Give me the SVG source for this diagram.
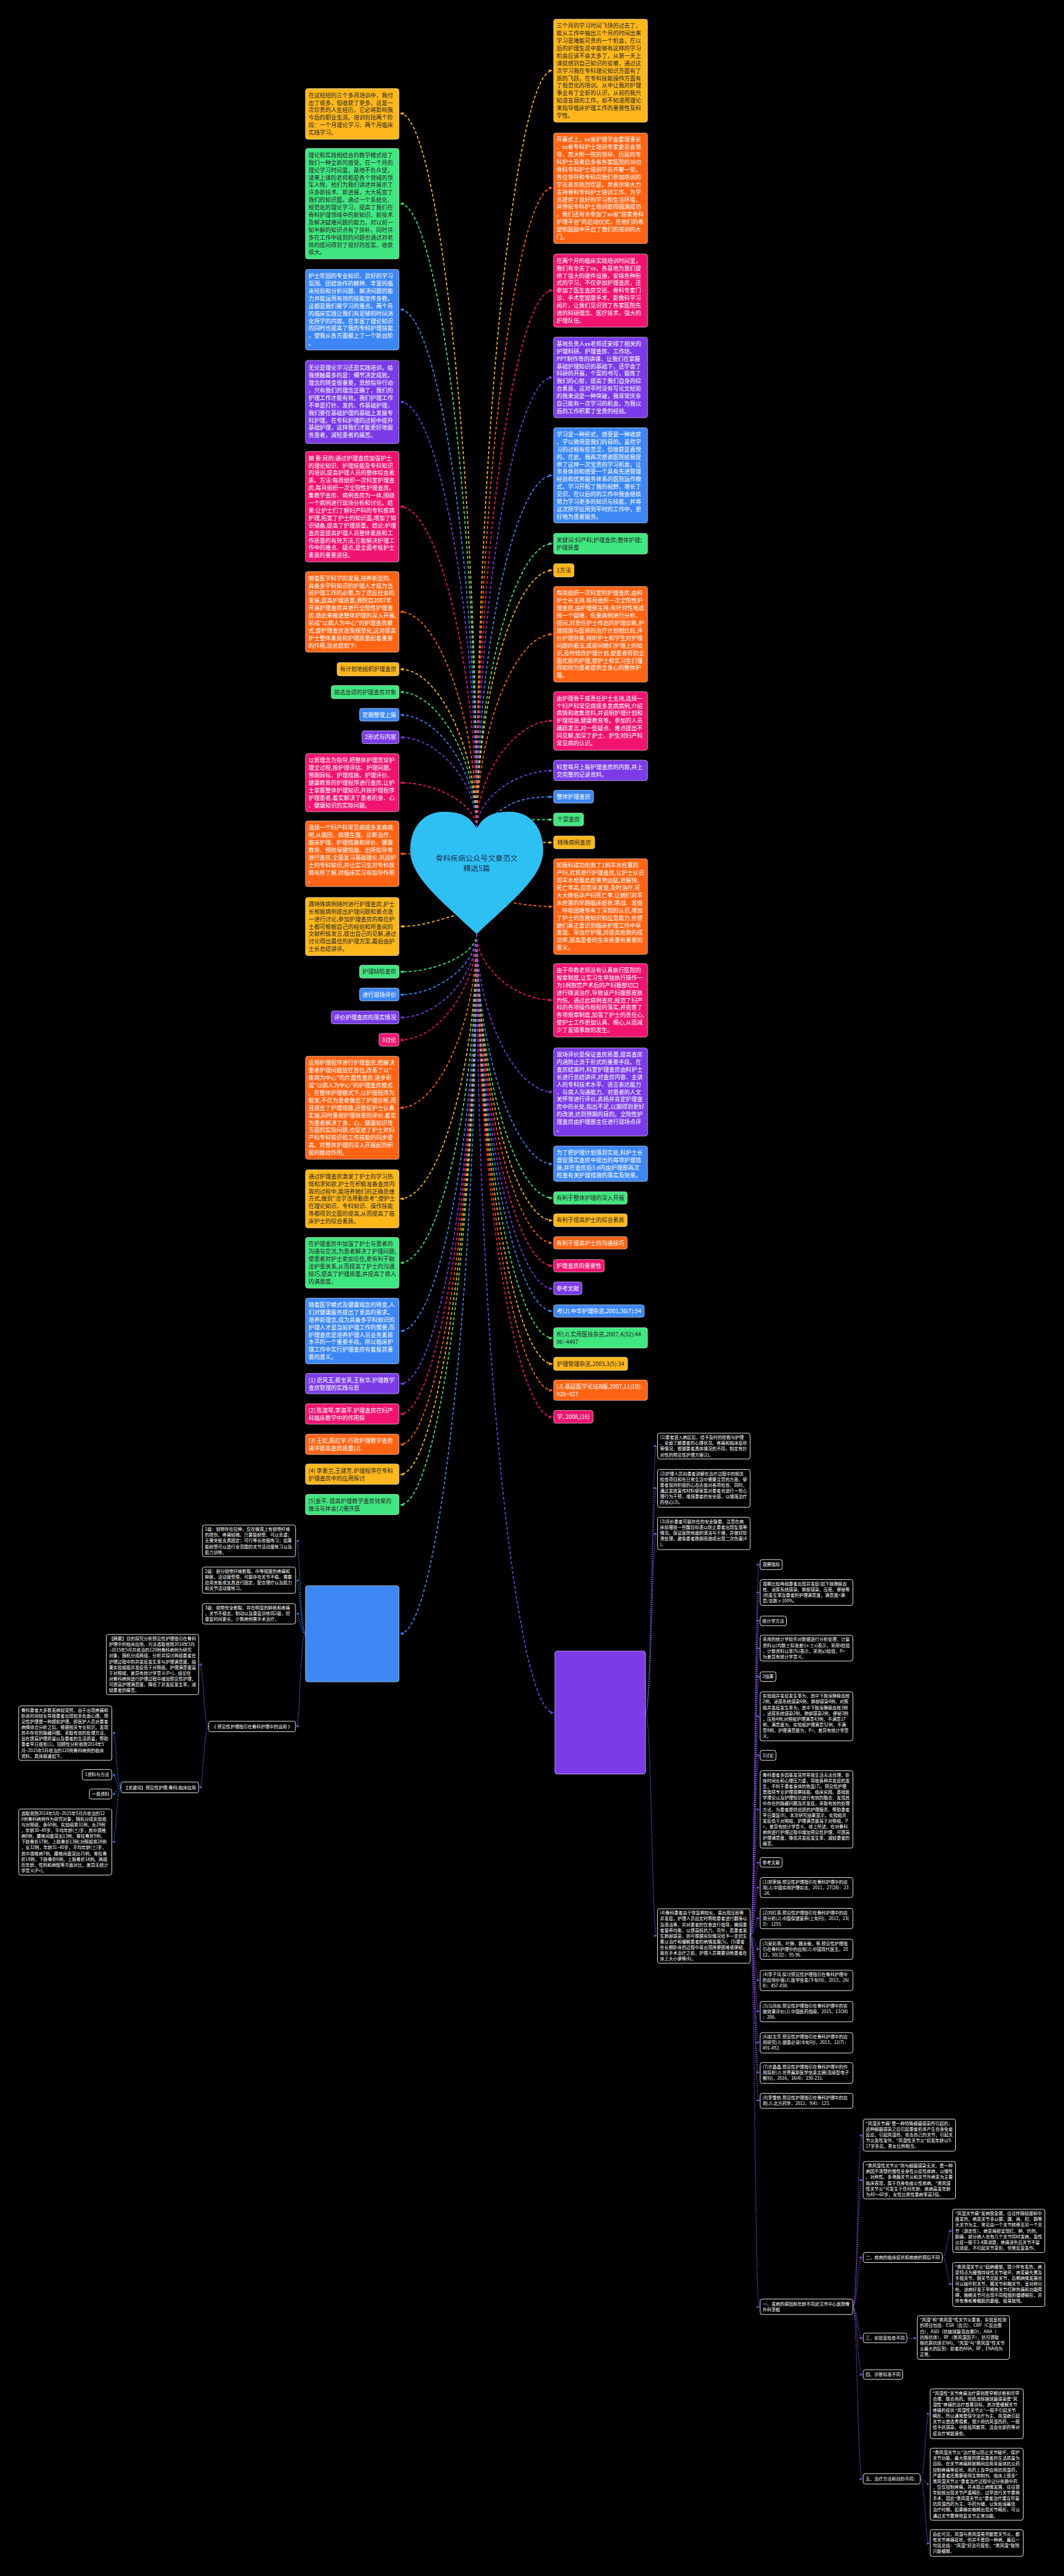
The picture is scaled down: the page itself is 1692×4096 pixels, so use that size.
<svg xmlns="http://www.w3.org/2000/svg" width="1692" height="4096" viewBox="0 0 1692 4096">
<style>
text{font-family:"Noto Sans CJK SC","Noto Sans",sans-serif}
.t{font-size:13.6px}
.m{text-anchor:middle}
.d{fill:#262626}
.w{fill:#fff}
.s{font-size:10.5px;fill:#fff}
.ry{fill:#FFB71B}.rg{fill:#40E67F}.rb{fill:#3D87F5}.rp{fill:#7B3BE8}.rk{fill:#F01470}.ro{fill:#FF6414}
.n rect{stroke:rgba(255,255,255,0.55);stroke-width:1.5}
.bx{fill:#000;stroke:#e6e6e6;stroke-width:1.5}
.c{fill:none;stroke-width:2.6;stroke-dasharray:7 5}
.cy{stroke:#FFB71B;marker-end:url(#my)}.cg{stroke:#40E67F;marker-end:url(#mg)}.cb{stroke:#3D87F5;marker-end:url(#mb)}
.cp{stroke:#7B3BE8;marker-end:url(#mp)}.ck{stroke:#F01470;marker-end:url(#mk)}.co{stroke:#FF6414;marker-end:url(#mo)}
.bl{fill:none;stroke-width:1.8;stroke-dasharray:2.5 2.5}
.lb{stroke:#3D87F5;marker-end:url(#sb)}.lp{stroke:#8A55F0;marker-end:url(#sp)}
</style>
<defs>
<marker id="my" viewBox="0 0 10 10" refX="9" refY="5" markerWidth="9" markerHeight="9" markerUnits="userSpaceOnUse" orient="auto"><path d="M0,1 L10,5 L0,9 z" fill="#FFB71B"/></marker>
<marker id="mg" viewBox="0 0 10 10" refX="9" refY="5" markerWidth="9" markerHeight="9" markerUnits="userSpaceOnUse" orient="auto"><path d="M0,1 L10,5 L0,9 z" fill="#40E67F"/></marker>
<marker id="mb" viewBox="0 0 10 10" refX="9" refY="5" markerWidth="9" markerHeight="9" markerUnits="userSpaceOnUse" orient="auto"><path d="M0,1 L10,5 L0,9 z" fill="#3D87F5"/></marker>
<marker id="mp" viewBox="0 0 10 10" refX="9" refY="5" markerWidth="9" markerHeight="9" markerUnits="userSpaceOnUse" orient="auto"><path d="M0,1 L10,5 L0,9 z" fill="#7B3BE8"/></marker>
<marker id="mk" viewBox="0 0 10 10" refX="9" refY="5" markerWidth="9" markerHeight="9" markerUnits="userSpaceOnUse" orient="auto"><path d="M0,1 L10,5 L0,9 z" fill="#F01470"/></marker>
<marker id="mo" viewBox="0 0 10 10" refX="9" refY="5" markerWidth="9" markerHeight="9" markerUnits="userSpaceOnUse" orient="auto"><path d="M0,1 L10,5 L0,9 z" fill="#FF6414"/></marker>
<marker id="sb" viewBox="0 0 10 10" refX="9" refY="5" markerWidth="7" markerHeight="7" markerUnits="userSpaceOnUse" orient="auto"><path d="M0,1 L10,5 L0,9 z" fill="#3D87F5"/></marker>
<marker id="sp" viewBox="0 0 10 10" refX="9" refY="5" markerWidth="7" markerHeight="7" markerUnits="userSpaceOnUse" orient="auto"><path d="M0,1 L10,5 L0,9 z" fill="#8A55F0"/></marker>
</defs>
<rect width="1692" height="4096" fill="#000"/>
<g transform="scale(0.66094)">
<g id="connectors">
<path class="c cy" d="M1147 1992 C1147 1133 1055 273 963 273"/>
<path class="c cg" d="M1147 1992 C1147 1241 1055 490 963 490"/>
<path class="c cb" d="M1147 1992 C1147 1369 1055 745 963 745"/>
<path class="c cp" d="M1147 1992 C1147 1480 1055 967 963 967"/>
<path class="c ck" d="M1147 1992 C1147 1606 1055 1219 963 1219"/>
<path class="c co" d="M1147 1992 C1147 1732 1055 1472 963 1472"/>
<path class="c cy" d="M1147 1992 C1147 1801 1055 1610 963 1610"/>
<path class="c cg" d="M1147 1992 C1147 1829 1055 1665 963 1665"/>
<path class="c cb" d="M1147 1992 C1147 1856 1055 1720 963 1720"/>
<path class="c cp" d="M1147 1992 C1147 1883 1055 1774 963 1774"/>
<path class="c ck" d="M1147 1992 C1147 1938 1055 1883 963 1883"/>
<path class="c co" d="M990 2054 L963 2054"/>
<path class="c cy" d="M1092 2203 C1050 2215 1010 2229 963 2229"/>
<path class="c cg" d="M1147 2247 C1147 2293 1055 2338 963 2338"/>
<path class="c cb" d="M1147 2247 C1147 2320 1055 2393 963 2393"/>
<path class="c cp" d="M1147 2247 C1147 2348 1055 2448 963 2448"/>
<path class="c ck" d="M1147 2247 C1147 2375 1055 2502 963 2502"/>
<path class="c co" d="M1147 2247 C1147 2456 1055 2665 963 2665"/>
<path class="c cy" d="M1147 2247 C1147 2566 1055 2884 963 2884"/>
<path class="c cg" d="M1147 2247 C1147 2643 1055 3038 963 3038"/>
<path class="c cb" d="M1147 2247 C1147 2725 1055 3202 963 3202"/>
<path class="c cp" d="M1147 2247 C1147 2788 1055 3329 963 3329"/>
<path class="c ck" d="M1147 2247 C1147 2825 1055 3402 963 3402"/>
<path class="c co" d="M1147 2247 C1147 2861 1055 3475 963 3475"/>
<path class="c cy" d="M1147 2247 C1147 2897 1055 3547 963 3547"/>
<path class="c cg" d="M1147 2247 C1147 2934 1055 3620 963 3620"/>
<path class="c cb" d="M1147 2247 C1147 3089 1055 3930 963 3930"/>
<path class="c cy" d="M1147 1992 C1147 1081 1239 170 1329 170"/>
<path class="c co" d="M1147 1992 C1147 1222 1239 452 1329 452"/>
<path class="c ck" d="M1147 1992 C1147 1346 1239 699 1329 699"/>
<path class="c cp" d="M1147 1992 C1147 1450 1239 908 1329 908"/>
<path class="c cb" d="M1147 1992 C1147 1568 1239 1144 1329 1144"/>
<path class="c cg" d="M1147 1992 C1147 1650 1239 1308 1329 1308"/>
<path class="c cy" d="M1147 1992 C1147 1682 1239 1372 1329 1372"/>
<path class="c co" d="M1147 1992 C1147 1759 1239 1526 1329 1526"/>
<path class="c ck" d="M1147 1992 C1147 1863 1239 1734 1329 1734"/>
<path class="c cp" d="M1147 1992 C1147 1923 1239 1854 1329 1854"/>
<path class="c cb" d="M1192 1958 C1235 1925 1270 1917 1329 1917"/>
<path class="c cg" d="M1280 1972 L1329 1972"/>
<path class="c cy" d="M1306 2027 L1329 2027"/>
<path class="c co" d="M1236 2172 C1270 2178 1300 2181 1329 2181"/>
<path class="c ck" d="M1147 2247 C1147 2327 1239 2406 1329 2406"/>
<path class="c cp" d="M1147 2247 C1147 2437 1239 2627 1329 2627"/>
<path class="c cb" d="M1147 2247 C1147 2524 1239 2800 1329 2800"/>
<path class="c cg" d="M1147 2247 C1147 2565 1239 2882 1329 2882"/>
<path class="c cy" d="M1147 2247 C1147 2592 1239 2936 1329 2936"/>
<path class="c co" d="M1147 2247 C1147 2619 1239 2990 1329 2990"/>
<path class="c ck" d="M1147 2247 C1147 2646 1239 3045 1329 3045"/>
<path class="c cp" d="M1147 2247 C1147 2674 1239 3100 1329 3100"/>
<path class="c cb" d="M1147 2247 C1147 2701 1239 3154 1329 3154"/>
<path class="c cg" d="M1147 2247 C1147 2733 1239 3219 1329 3219"/>
<path class="c cy" d="M1147 2247 C1147 2764 1239 3281 1329 3281"/>
<path class="c co" d="M1147 2247 C1147 2796 1239 3345 1329 3345"/>
<path class="c ck" d="M1147 2247 C1147 2828 1239 3409 1329 3409"/>
<path class="c cp" d="M1147 2247 C1147 3184 1239 4120 1332 4120"/>
<path class="bl lb" d="M735 3930 C722 3930 722 3707 713 3707"/>
<path class="bl lb" d="M735 3930 C722 3930 722 3802 713 3802"/>
<path class="bl lb" d="M735 3930 C722 3930 722 3882 713 3882"/>
<path class="bl lb" d="M735 3930 C722 3930 722 4153 713 4153"/>
<path class="bl lb" d="M502 4153 C490 4153 490 4004 480 4004"/>
<path class="bl lb" d="M502 4153 C490 4153 490 4300 480 4300"/>
<path class="bl lb" d="M291 4300 C280 4300 280 4169 271 4169"/>
<path class="bl lb" d="M291 4300 C280 4300 280 4270 271 4270"/>
<path class="bl lb" d="M291 4300 C280 4300 280 4316 271 4316"/>
<path class="bl lb" d="M291 4300 C280 4300 280 4431 271 4431"/>
<path class="bl lp" d="M1553 4120 C1568 4120 1568 3479 1580 3479"/>
<path class="bl lp" d="M1553 4120 C1568 4120 1568 3580 1580 3580"/>
<path class="bl lp" d="M1553 4120 C1568 4120 1568 3690 1580 3690"/>
<path class="bl lp" d="M1553 4120 C1568 4120 1568 4657 1580 4657"/>
<path class="bl lp" d="M1805 4657 C1816 4657 1816 3764 1827 3764"/>
<path class="bl lp" d="M1805 4657 C1816 4657 1816 3831 1827 3831"/>
<path class="bl lp" d="M1805 4657 C1816 4657 1816 3899 1827 3899"/>
<path class="bl lp" d="M1805 4657 C1816 4657 1816 3965 1827 3965"/>
<path class="bl lp" d="M1805 4657 C1816 4657 1816 4033 1827 4033"/>
<path class="bl lp" d="M1805 4657 C1816 4657 1816 4129 1827 4129"/>
<path class="bl lp" d="M1805 4657 C1816 4657 1816 4223 1827 4223"/>
<path class="bl lp" d="M1805 4657 C1816 4657 1816 4353 1827 4353"/>
<path class="bl lp" d="M1805 4657 C1816 4657 1816 4481 1827 4481"/>
<path class="bl lp" d="M1805 4657 C1816 4657 1816 4541 1827 4541"/>
<path class="bl lp" d="M1805 4657 C1816 4657 1816 4615 1827 4615"/>
<path class="bl lp" d="M1805 4657 C1816 4657 1816 4689 1827 4689"/>
<path class="bl lp" d="M1805 4657 C1816 4657 1816 4764 1827 4764"/>
<path class="bl lp" d="M1805 4657 C1816 4657 1816 4839 1827 4839"/>
<path class="bl lp" d="M1805 4657 C1816 4657 1816 4914 1827 4914"/>
<path class="bl lp" d="M1805 4657 C1816 4657 1816 4986 1827 4986"/>
<path class="bl lp" d="M1805 4657 C1816 4657 1816 5053 1827 5053"/>
<path class="bl lp" d="M1805 4657 C1816 4657 1816 5550 1827 5550"/>
<path class="bl lp" d="M2052 5550 C2063 5550 2063 5137 2075 5137"/>
<path class="bl lp" d="M2052 5550 C2063 5550 2063 5245 2075 5245"/>
<path class="bl lp" d="M2052 5550 C2063 5550 2063 5431 2075 5431"/>
<path class="bl lp" d="M2052 5550 C2063 5550 2063 5625 2075 5625"/>
<path class="bl lp" d="M2052 5550 C2063 5550 2063 5713 2075 5713"/>
<path class="bl lp" d="M2052 5550 C2063 5550 2063 5964 2075 5964"/>
<path class="bl lp" d="M2267 5431 C2279 5431 2279 5367 2290 5367"/>
<path class="bl lp" d="M2267 5431 C2279 5431 2279 5495 2290 5495"/>
<path class="bl lp" d="M2182 5625 L2205 5625"/>
<path class="bl lp" d="M2214 5964 C2226 5964 2226 5807 2236 5807"/>
<path class="bl lp" d="M2214 5964 C2226 5964 2226 5976 2236 5976"/>
<path class="bl lp" d="M2214 5964 C2226 5964 2226 6119 2236 6119"/>
</g>
<g id="center">
<path d="M1147 1993 C1128 1958 1098 1953 1068 1953 C1015 1953 987 1995 987 2045 C987 2110 1060 2165 1147 2247 C1234 2165 1307 2110 1307 2045 C1307 1995 1279 1953 1226 1953 C1196 1953 1166 1958 1147 1993 Z" fill="#2FC0F3"/>
<text x="1147" y="2071" font-size="18" class="m" fill="#1E3A5F">骨科疾病公众号文章范文</text>
<text x="1147" y="2095" font-size="18" class="m" fill="#1E3A5F">精选5篇</text>
</g>
<g id="L1" class="n"><rect class="ry" x="735" y="213" width="225" height="122" rx="6"/><text class="t d"><tspan x="742" y="234">在这短短的三个多月培训中，我付</tspan><tspan x="742" dy="18">出了很多，但收获了更多。这是一</tspan><tspan x="742" dy="18">次珍贵的人生经历，它必将影响我</tspan><tspan x="742" dy="18">今后的职业生涯。培训包括两个阶</tspan><tspan x="742" dy="18">段：一个月理论学习、两个月临床</tspan><tspan x="742" dy="18">实践学习。</tspan></text></g>
<g id="L2" class="n"><rect class="rg" x="735" y="357" width="225" height="266" rx="6"/><text class="t d"><tspan x="742" y="378">理论和实践相结合的教学模式给了</tspan><tspan x="742" dy="18">我们一种全新的感受。在一个月的</tspan><tspan x="742" dy="18">理论学习时间里，基地不负众望，</tspan><tspan x="742" dy="18">请来上课的老师都是各个领域的领</tspan><tspan x="742" dy="18">军人物，他们为我们讲述并展示了</tspan><tspan x="742" dy="18">许多新技术、新进展，大大拓宽了</tspan><tspan x="742" dy="18">我们的知识面。通过一个系统化、</tspan><tspan x="742" dy="18">规范化的理论学习，提高了我们在</tspan><tspan x="742" dy="18">骨科护理领域中的新知识、新技术</tspan><tspan x="742" dy="18">及解决疑难问题的能力，对以前一</tspan><tspan x="742" dy="18">知半解的知识点有了弥补，同时许</tspan><tspan x="742" dy="18">多在工作中碰到的问题也通过对老</tspan><tspan x="742" dy="18">师的提问得到了很好的答案，收获</tspan><tspan x="742" dy="18">很大。</tspan></text></g>
<g id="L3" class="n"><rect class="rb" x="735" y="648" width="225" height="194" rx="6"/><text class="t w"><tspan x="742" y="669">护士牢固的专业知识、良好的学习</tspan><tspan x="742" dy="18">氛围、团结协作的精神、丰富的临</tspan><tspan x="742" dy="18">床经验和分析问题、解决问题的能</tspan><tspan x="742" dy="18">力并能运用有效的技能宣传身教，</tspan><tspan x="742" dy="18">这都是我们要学习的重点。两个月</tspan><tspan x="742" dy="18">的临床实践让我们有足够的时间消</tspan><tspan x="742" dy="18">化所学的内容。在丰富了理论知识</tspan><tspan x="742" dy="18">的同时也提高了我的专科护理技能</tspan><tspan x="742" dy="18">，使我从各方面都上了一个新台阶</tspan><tspan x="742" dy="18">。</tspan></text></g>
<g id="L4" class="n"><rect class="rp" x="735" y="867" width="225" height="200" rx="6"/><text class="t w"><tspan x="742" y="890">无论是理论学习还是实践培训，给</tspan><tspan x="742" dy="18">我感触最多的是：细节决定成败。</tspan><tspan x="742" dy="18">理念的转变很重要，思想指导行动</tspan><tspan x="742" dy="18">，只有我们的理念正确了，我们的</tspan><tspan x="742" dy="18">护理工作才能有效。我们护理工作</tspan><tspan x="742" dy="18">不单是打针、发药、作基础护理，</tspan><tspan x="742" dy="18">我们要在基础护理的基础上发展专</tspan><tspan x="742" dy="18">科护理，在专科护理的过程中提升</tspan><tspan x="742" dy="18">基础护理，这样我们才能更好地服</tspan><tspan x="742" dy="18">务患者，减轻患者的痛苦。</tspan></text></g>
<g id="L5" class="n"><rect class="rk" x="735" y="1086" width="225" height="266" rx="6"/><text class="t w"><tspan x="742" y="1107">摘 要:目的:通过护理查房加强护士</tspan><tspan x="742" dy="18">的理论知识、护理技能及专科知识</tspan><tspan x="742" dy="18">的培训,提高护理人员的整体综合素</tspan><tspan x="742" dy="18">质。方法:每周组织一次科室护理查</tspan><tspan x="742" dy="18">房,每月组织一次全院性护理查房。</tspan><tspan x="742" dy="18">集教学查房、病例查房为一体,围绕</tspan><tspan x="742" dy="18">一个病例进行现场分析和讨论。结</tspan><tspan x="742" dy="18">果:让护士们了解妇产科的专科疾病</tspan><tspan x="742" dy="18">护理,拓宽了护士的知识面,增加了知</tspan><tspan x="742" dy="18">识储备,提高了护理质量。结论:护理</tspan><tspan x="742" dy="18">查房是提高护理人员整体素质和工</tspan><tspan x="742" dy="18">作质量的有效方法,它能解决护理工</tspan><tspan x="742" dy="18">作中的难点、疑点,是全面考核护士</tspan><tspan x="742" dy="18">素质的重要途径。</tspan></text></g>
<g id="L6" class="n"><rect class="ro" x="735" y="1375" width="225" height="194" rx="6"/><text class="t w"><tspan x="742" y="1396">随着医学科学的发展,培养新型的、</tspan><tspan x="742" dy="18">具备多学科知识的护理人才成为当</tspan><tspan x="742" dy="18">前护理工作的必需,为了适应社会的</tspan><tspan x="742" dy="18">发展,提高护理质量,我院自2007年</tspan><tspan x="742" dy="18">开展护理查房并进行全院性护理查</tspan><tspan x="742" dy="18">房,借此来推进整体护理的深入开展,</tspan><tspan x="742" dy="18">形成"以病人为中心"的护理查房模</tspan><tspan x="742" dy="18">式,使护理查房逐渐规范化,这对提高</tspan><tspan x="742" dy="18">护士整体素质和护理质量起着重要</tspan><tspan x="742" dy="18">的作用,现总结如下:</tspan></text></g>
<g id="L7" class="n"><rect class="ry" x="811" y="1594" width="149" height="32" rx="6"/><text class="t d m" x="885.5" y="1615">有计划地组织护理查房</text></g>
<g id="L8" class="n"><rect class="rg" x="797" y="1649" width="163" height="32" rx="6"/><text class="t d m" x="878.5" y="1670">挑选合适的护理查房对象</text></g>
<g id="L9" class="n"><rect class="rb" x="865" y="1704" width="95" height="31" rx="6"/><text class="t w m" x="912.5" y="1724.5">定期整理上报</text></g>
<g id="L10" class="n"><rect class="rp" x="871" y="1758" width="89" height="31" rx="6"/><text class="t w m" x="915.5" y="1778.5">2形式与内容</text></g>
<g id="L11" class="n"><rect class="rk" x="735" y="1813" width="225" height="140" rx="6"/><text class="t w"><tspan x="742" y="1834">以新理念为指导,把整体护理贯穿护</tspan><tspan x="742" dy="18">理全过程,按护理评估、护理问题、</tspan><tspan x="742" dy="18">预期目标、护理措施、护理评价、</tspan><tspan x="742" dy="18">健康教育的护理程序进行查房,让护</tspan><tspan x="742" dy="18">士掌握整体护理知识,并按护理程序</tspan><tspan x="742" dy="18">护理患者,着实解决了患者的身、心</tspan><tspan x="742" dy="18">、健康知识的实际问题。</tspan></text></g>
<g id="L12" class="n"><rect class="ro" x="735" y="1975" width="225" height="158" rx="6"/><text class="t w"><tspan x="742" y="1996">选择一个妇产科常见病或多发病病</tspan><tspan x="742" dy="18">例,从病因、病理生理、诊断治疗、</tspan><tspan x="742" dy="18">临床护理、护理措施和评价、健康</tspan><tspan x="742" dy="18">教育、预防保健措施、出所指导等</tspan><tspan x="742" dy="18">进行查房,全面复习基础理论,巩固护</tspan><tspan x="742" dy="18">士的专科知识,并让实习生对专科疾</tspan><tspan x="742" dy="18">病有所了解,对临床实习有指导作用</tspan><tspan x="742" dy="18">。</tspan></text></g>
<g id="L13" class="n"><rect class="ry" x="735" y="2159" width="225" height="140" rx="6"/><text class="t d"><tspan x="742" y="2180">遇特殊病例随时进行护理查房,护士</tspan><tspan x="742" dy="18">长根据病例提出护理问题和要点逐</tspan><tspan x="742" dy="18">一进行讨论,参加护理查房的每位护</tspan><tspan x="742" dy="18">士都可根据自己的经验和所查阅的</tspan><tspan x="742" dy="18">文献积极发言,提出自己的见解,通过</tspan><tspan x="742" dy="18">讨论得出最佳的护理方案,最后由护</tspan><tspan x="742" dy="18">士长总结讲评。</tspan></text></g>
<g id="L14" class="n"><rect class="rg" x="865" y="2322" width="95" height="31" rx="6"/><text class="t d m" x="912.5" y="2342.5">护理缺陷查房</text></g>
<g id="L15" class="n"><rect class="rb" x="865" y="2377" width="95" height="31" rx="6"/><text class="t w m" x="912.5" y="2397.5">进行现场评价</text></g>
<g id="L16" class="n"><rect class="rp" x="797" y="2432" width="163" height="31" rx="6"/><text class="t w m" x="878.5" y="2452.5">评价护理查房的落实情况</text></g>
<g id="L17" class="n"><rect class="rk" x="912" y="2486" width="48" height="31" rx="6"/><text class="t w m" x="936" y="2506.5">3讨论</text></g>
<g id="L18" class="n"><rect class="ro" x="735" y="2541" width="225" height="248" rx="6"/><text class="t w"><tspan x="742" y="2562">应用护理程序进行护理查房,把解决</tspan><tspan x="742" dy="18">患者护理问题放在首位,改革了以"</tspan><tspan x="742" dy="18">疾病为中心"的片面性查房,逐步形</tspan><tspan x="742" dy="18">成"以病人为中心"的护理查房模式</tspan><tspan x="742" dy="18">。在整体护理模式下,以护理程序为</tspan><tspan x="742" dy="18">框架,不仅为患者做出了护理诊断,而</tspan><tspan x="742" dy="18">且提出了护理措施,还督促护士认真</tspan><tspan x="742" dy="18">实施,同时重视护理效果的评价,着实</tspan><tspan x="742" dy="18">为患者解决了身、心、健康知识等</tspan><tspan x="742" dy="18">方面的实际问题,也促进了护士对妇</tspan><tspan x="742" dy="18">产科专科知识和工作技能的同步提</tspan><tspan x="742" dy="18">高。对整体护理的深入开展起到积</tspan><tspan x="742" dy="18">极的推动作用。</tspan></text></g>
<g id="L19" class="n"><rect class="ry" x="735" y="2814" width="225" height="140" rx="6"/><text class="t d"><tspan x="742" y="2835">通过护理查房激发了护士的学习热</tspan><tspan x="742" dy="18">情和求知欲,护士在积极准备查房内</tspan><tspan x="742" dy="18">容的过程中,能培养她们的正确思维</tspan><tspan x="742" dy="18">方式,做到"活学活用勤思考",使护士</tspan><tspan x="742" dy="18">在理论知识、专科知识、操作技能</tspan><tspan x="742" dy="18">等都得到全面的提高,从而提高了临</tspan><tspan x="742" dy="18">床护士的综合素质。</tspan></text></g>
<g id="L20" class="n"><rect class="rg" x="735" y="2977" width="225" height="122" rx="6"/><text class="t d"><tspan x="742" y="2998">在护理查房中加强了护士与患者的</tspan><tspan x="742" dy="18">沟通与交流,为患者解决了护理问题,</tspan><tspan x="742" dy="18">使患者对护士更加信任,更有利于融</tspan><tspan x="742" dy="18">洽护患关系,从而提高了护士的沟通</tspan><tspan x="742" dy="18">技巧,提高了护理质量,并提高了病人</tspan><tspan x="742" dy="18">的满意度。</tspan></text></g>
<g id="L21" class="n"><rect class="rb" x="735" y="3123" width="225" height="158" rx="6"/><text class="t w"><tspan x="742" y="3144">随着医学模式及健康观念的转变,人</tspan><tspan x="742" dy="18">们对健康服务提出了更高的要求。</tspan><tspan x="742" dy="18">培养新理念,成为具备多学科知识的</tspan><tspan x="742" dy="18">护理人才是当前护理工作的需要,而</tspan><tspan x="742" dy="18">护理查房是培养护理人员业务素质</tspan><tspan x="742" dy="18">水平的一个重要手段。所以临床护</tspan><tspan x="742" dy="18">理工作中实行护理查房有着极其重</tspan><tspan x="742" dy="18">要的意义。</tspan></text></g>
<g id="L22" class="n"><rect class="rp" x="735" y="3304" width="225" height="49" rx="6"/><text class="t w"><tspan x="742" y="3325">[1] 迟风玉,蔡宝英,王秋华.护理教学</tspan><tspan x="742" dy="18">查房管理的实践与思</tspan></text></g>
<g id="L23" class="n"><rect class="rk" x="735" y="3377" width="225" height="49" rx="6"/><text class="t w"><tspan x="742" y="3398">[2] 陈淑琴,李淑平.护理查房在妇产</tspan><tspan x="742" dy="18">科临床教学中的作用探</tspan></text></g>
<g id="L24" class="n"><rect class="ro" x="735" y="3450" width="225" height="49" rx="6"/><text class="t w"><tspan x="742" y="3471">[3] 王虹,陈红宇.行政护理教学查房</tspan><tspan x="742" dy="18">讲评提高查房质量[J].</tspan></text></g>
<g id="L25" class="n"><rect class="ry" x="735" y="3522" width="225" height="49" rx="6"/><text class="t d"><tspan x="742" y="3543">[4] 李素兰,王建芳.护理程序在专科</tspan><tspan x="742" dy="18">护理查房中的应用探讨</tspan></text></g>
<g id="L26" class="n"><rect class="rg" x="735" y="3595" width="225" height="49" rx="6"/><text class="t d"><tspan x="742" y="3616">[5]金平. 提高护理教学查房效果的</tspan><tspan x="742" dy="18">做法与体会[J]重庆医</tspan></text></g>
<g id="L27" class="n"><rect class="rb" x="735" y="3815" width="225" height="231" rx="6"/></g>
<g id="R1" class="n"><rect class="ry" x="1332" y="46" width="226" height="248" rx="6"/><text class="t d"><tspan x="1339" y="67">三个月的学习时间飞快的过去了，</tspan><tspan x="1339" dy="18">能从工作中抽出三个月的时间出来</tspan><tspan x="1339" dy="18">学习是难能可贵的一个机会，在以</tspan><tspan x="1339" dy="18">后的护理生涯中能够有这样的学习</tspan><tspan x="1339" dy="18">机会应该不会太多了，从第一天上</tspan><tspan x="1339" dy="18">课就感到自己知识的贫瘠，通过这</tspan><tspan x="1339" dy="18">次学习我在专科理论知识方面有了</tspan><tspan x="1339" dy="18">质的飞跃，在专科技能操作方面有</tspan><tspan x="1339" dy="18">了规范化的培训。从中让我对护理</tspan><tspan x="1339" dy="18">事业有了全新的认识，从前的我只</tspan><tspan x="1339" dy="18">知道盲目的工作，却不知道用理论</tspan><tspan x="1339" dy="18">来指导临床护理工作的重要性及科</tspan><tspan x="1339" dy="18">学性。</tspan></text></g>
<g id="R2" class="n"><rect class="ro" x="1332" y="320" width="226" height="266" rx="6"/><text class="t w"><tspan x="1339" y="341">开幕式上，xx省护理学会霍理事长</tspan><tspan x="1339" dy="18">、xx省专科护士培训专家委员会领</tspan><tspan x="1339" dy="18">导、苏大附一院的领导、历届的专</tspan><tspan x="1339" dy="18">科护士及来自多省各家医院的36位</tspan><tspan x="1339" dy="18">骨科专科护士培训学员齐聚一堂。</tspan><tspan x="1339" dy="18">各位领导和专科向我们参加培训的</tspan><tspan x="1339" dy="18">学员表示热烈欢迎，并表示将大力</tspan><tspan x="1339" dy="18">支持骨科专科护士培训工作，为学</tspan><tspan x="1339" dy="18">员提供了良好的学习和生活环境，</tspan><tspan x="1339" dy="18">并预祝专科护士培训取得圆满成功</tspan><tspan x="1339" dy="18">。我们还有幸参加了xx省"居家骨科</tspan><tspan x="1339" dy="18">护理平台"的启动仪式，在他们的希</tspan><tspan x="1339" dy="18">望和鼓励中开启了我们的培训的大</tspan><tspan x="1339" dy="18">门。</tspan></text></g>
<g id="R3" class="n"><rect class="rk" x="1332" y="611" width="226" height="176" rx="6"/><text class="t w"><tspan x="1339" y="632">在两个月的临床实践培训时间里，</tspan><tspan x="1339" dy="18">我们有幸去了xx，各基地为我们提</tspan><tspan x="1339" dy="18">供了强大的硬件设施，安排各种形</tspan><tspan x="1339" dy="18">式的学习，不仅参加护理查房，还</tspan><tspan x="1339" dy="18">参加了医生查房交班、骨科专家门</tspan><tspan x="1339" dy="18">诊、手术室观摩手术、影像科学习</tspan><tspan x="1339" dy="18">阅片，让我们见识到了各家医院先</tspan><tspan x="1339" dy="18">进的科研理念、医疗技术，强大的</tspan><tspan x="1339" dy="18">护理队伍。</tspan></text></g>
<g id="R4" class="n"><rect class="rp" x="1332" y="811" width="226" height="194" rx="6"/><text class="t w"><tspan x="1339" y="832">基地负责人xx老师还安排了相关的</tspan><tspan x="1339" dy="18">护理科研、护理查房、工作坊、</tspan><tspan x="1339" dy="18">PPT制作等的讲课，让我们在掌握</tspan><tspan x="1339" dy="18">基础护理知识的基础下，还学会了</tspan><tspan x="1339" dy="18">科研的开展，个案的书写，锻炼了</tspan><tspan x="1339" dy="18">我们的心智，提高了我们自身的综</tspan><tspan x="1339" dy="18">合素质，这对平时没有写论文经验</tspan><tspan x="1339" dy="18">的我来说是一种突破，我非常庆幸</tspan><tspan x="1339" dy="18">自己能有一次学习的机会，为我以</tspan><tspan x="1339" dy="18">后的工作积累了宝贵的经验。</tspan></text></g>
<g id="R5" class="n"><rect class="rb" x="1332" y="1029" width="226" height="229" rx="6"/><text class="t w"><tspan x="1339" y="1050">学习是一种形式，感受是一种收获</tspan><tspan x="1339" dy="18">，学以致用是我们的目的。虽然学</tspan><tspan x="1339" dy="18">习的过程有些苦涩，但收获是喜悦</tspan><tspan x="1339" dy="18">的。在此，我再次感谢医院给我提</tspan><tspan x="1339" dy="18">供了这样一次宝贵的学习机会，让</tspan><tspan x="1339" dy="18">亲身体验和感受一个具有先进管理</tspan><tspan x="1339" dy="18">经验和优秀服务体系的医院运作模</tspan><tspan x="1339" dy="18">式。学习开拓了我的视野，增长了</tspan><tspan x="1339" dy="18">见识，在以后的的工作中我会继续</tspan><tspan x="1339" dy="18">努力学习更多的知识与技能，并将</tspan><tspan x="1339" dy="18">这次所学应用到平时的工作中，更</tspan><tspan x="1339" dy="18">好地为患者服务。</tspan></text></g>
<g id="R6" class="n"><rect class="rg" x="1332" y="1283" width="226" height="50" rx="6"/><text class="t d"><tspan x="1339" y="1304">关键词:妇产科;护理查房;整体护理;</tspan><tspan x="1339" dy="18">护理质量</tspan></text></g>
<g id="R7" class="n"><rect class="ry" x="1332" y="1356" width="49" height="32" rx="6"/><text class="t d m" x="1356.5" y="1376.5">1方法</text></g>
<g id="R8" class="n"><rect class="ro" x="1332" y="1411" width="226" height="230" rx="6"/><text class="t w"><tspan x="1339" y="1432">每周组织一次科室的护理查房,由科</tspan><tspan x="1339" dy="18">护士长主持,每月组织一次全院性护</tspan><tspan x="1339" dy="18">理查房,由护理部主持,有针对性地选</tspan><tspan x="1339" dy="18">择一个疑难、危重病例进行分析、</tspan><tspan x="1339" dy="18">提问,对责任护士作出的护理诊断,护</tspan><tspan x="1339" dy="18">理措施与医师的治疗计划相比较,评</tspan><tspan x="1339" dy="18">价护理效果,倾听护士和学生对护理</tspan><tspan x="1339" dy="18">问题的看法,或提问她们护理上的知</tspan><tspan x="1339" dy="18">识,及时修改护理计划,使患者得到全</tspan><tspan x="1339" dy="18">面优质的护理,使护士和实习生们懂</tspan><tspan x="1339" dy="18">得如何为患者提供全身心的整体护</tspan><tspan x="1339" dy="18">理。</tspan></text></g>
<g id="R9" class="n"><rect class="rk" x="1332" y="1664" width="226" height="141" rx="6"/><text class="t w"><tspan x="1339" y="1685">由护理骨干或责任护士主持,选择一</tspan><tspan x="1339" dy="18">个妇产科常见病或多发病病例,介绍</tspan><tspan x="1339" dy="18">病情和收集资料,并说明护理计划和</tspan><tspan x="1339" dy="18">护理措施,健康教育等。参加的人员</tspan><tspan x="1339" dy="18">踊跃发言,对一些疑点、难点提出不</tspan><tspan x="1339" dy="18">同见解,加深了护士、护生对妇产科</tspan><tspan x="1339" dy="18">常见病的认识。</tspan></text></g>
<g id="R10" class="n"><rect class="rp" x="1332" y="1829" width="226" height="49" rx="6"/><text class="t w"><tspan x="1339" y="1850">科室每月上报护理查房的内容,并上</tspan><tspan x="1339" dy="18">交完整的记录资料。</tspan></text></g>
<g id="R11" class="n"><rect class="rb" x="1332" y="1901" width="96" height="31" rx="6"/><text class="t w m" x="1380" y="1921.5">整体护理查房</text></g>
<g id="R12" class="n"><rect class="rg" x="1332" y="1956" width="72" height="31" rx="6"/><text class="t d m" x="1368" y="1976.5">个案查房</text></g>
<g id="R13" class="n"><rect class="ry" x="1332" y="2011" width="99" height="31" rx="6"/><text class="t d m" x="1381.5" y="2031.5">特殊病例查房</text></g>
<g id="R14" class="n"><rect class="ro" x="1332" y="2066" width="226" height="230" rx="6"/><text class="t w"><tspan x="1339" y="2087">如我科成功抢救了1例羊水栓塞的</tspan><tspan x="1339" dy="18">产妇,对其进行护理查房,让护士认识</tspan><tspan x="1339" dy="18">到羊水栓塞此症来势凶猛,进展快、</tspan><tspan x="1339" dy="18">死亡率高,但若早发现,及时治疗,可</tspan><tspan x="1339" dy="18">大大降低孕产妇死亡率,让她们对羊</tspan><tspan x="1339" dy="18">水栓塞的早期临床症状:寒战、发绀</tspan><tspan x="1339" dy="18">、呼吸困难等有了深刻的认识,增加</tspan><tspan x="1339" dy="18">了护士的急救知识和应急能力,也使</tspan><tspan x="1339" dy="18">她们真正意识到临床护理工作中早</tspan><tspan x="1339" dy="18">发现、早治疗护理,对提高抢救的成</tspan><tspan x="1339" dy="18">功率,提高患者的生命质量有重要的</tspan><tspan x="1339" dy="18">意义。</tspan></text></g>
<g id="R15" class="n"><rect class="rk" x="1332" y="2318" width="226" height="177" rx="6"/><text class="t w"><tspan x="1339" y="2339">由于带教老师没有认真执行医院的</tspan><tspan x="1339" dy="18">规章制度,让实习生单独执行操作一</tspan><tspan x="1339" dy="18">为1例剖宫产术后的产妇腹部切口</tspan><tspan x="1339" dy="18">进行微波治疗,导致该产妇腹部皮肤</tspan><tspan x="1339" dy="18">灼伤。通过此病例查房,规范了妇产</tspan><tspan x="1339" dy="18">科的各项操作规程的落实,并完善了</tspan><tspan x="1339" dy="18">各项规章制度,加强了护士的责任心,</tspan><tspan x="1339" dy="18">使护士工作更加认真、细心,从而减</tspan><tspan x="1339" dy="18">少了差错事故的发生。</tspan></text></g>
<g id="R16" class="n"><rect class="rp" x="1332" y="2521" width="226" height="212" rx="6"/><text class="t w"><tspan x="1339" y="2542">现场评价是保证查房质量,提高查房</tspan><tspan x="1339" dy="18">内涵防止流于形式的重要手段。在</tspan><tspan x="1339" dy="18">查房结束时,科室护理查房由科护士</tspan><tspan x="1339" dy="18">长进行总结讲评,对查房内容、主讲</tspan><tspan x="1339" dy="18">人的专科技术水平、语言表达能力</tspan><tspan x="1339" dy="18">、与病人沟通能力、对患者的人文</tspan><tspan x="1339" dy="18">关怀等进行评价,表扬并肯定护理查</tspan><tspan x="1339" dy="18">房中的长处,指出不足,以期得到更好</tspan><tspan x="1339" dy="18">的改进,达到预期的目的。全院性护</tspan><tspan x="1339" dy="18">理查房由护理部主任进行现场点评</tspan><tspan x="1339" dy="18">。</tspan></text></g>
<g id="R17" class="n"><rect class="rb" x="1332" y="2757" width="226" height="85" rx="6"/><text class="t w"><tspan x="1339" y="2778">为了把护理计划落到实处,科护士长</tspan><tspan x="1339" dy="18">督促落实查房中提出的每项护理措</tspan><tspan x="1339" dy="18">施,并在查房后3 d内由护理部再次</tspan><tspan x="1339" dy="18">检查有关护理措施的落实及效果。</tspan></text></g>
<g id="R18" class="n"><rect class="rg" x="1332" y="2867" width="177" height="30" rx="6"/><text class="t d m" x="1420.5" y="2887">有利于整体护理的深入开展</text></g>
<g id="R19" class="n"><rect class="ry" x="1332" y="2920" width="177" height="31" rx="6"/><text class="t d m" x="1420.5" y="2940.5">有利于提高护士的综合素质</text></g>
<g id="R20" class="n"><rect class="ro" x="1332" y="2975" width="177" height="30" rx="6"/><text class="t w m" x="1420.5" y="2995">有利于提高护士的沟通技巧</text></g>
<g id="R21" class="n"><rect class="rk" x="1332" y="3030" width="122" height="30" rx="6"/><text class="t w m" x="1393" y="3050">护理查房的重要性</text></g>
<g id="R22" class="n"><rect class="rp" x="1332" y="3084" width="68" height="31" rx="6"/><text class="t w m" x="1366" y="3104.5">参考文献</text></g>
<g id="R23" class="n"><rect class="rb" x="1332" y="3139" width="218" height="30" rx="6"/><text class="t w m" x="1441" y="3159">考[J].中华护理杂志,2001,36(7):54</text></g>
<g id="R24" class="n"><rect class="rg" x="1332" y="3194" width="226" height="49" rx="6"/><text class="t d"><tspan x="1339" y="3215">析[J].实用医技杂志,2007,4(32):44</tspan><tspan x="1339" dy="18">96~4497</tspan></text></g>
<g id="R25" class="n"><rect class="ry" x="1332" y="3265" width="178" height="32" rx="6"/><text class="t d m" x="1421" y="3286">护理管理杂志,2003,3(5):34</text></g>
<g id="R26" class="n"><rect class="ro" x="1332" y="3320" width="226" height="49" rx="6"/><text class="t w"><tspan x="1339" y="3341">[J].基层医学论坛B版,2007,11(10):</tspan><tspan x="1339" dy="18">926~927</tspan></text></g>
<g id="R27" class="n"><rect class="rk" x="1332" y="3393" width="95" height="31" rx="6"/><text class="t w m" x="1379.5" y="3413.5">学, 2008,(16)</text></g>
<g id="R28" class="n"><rect class="rp" x="1335" y="3972" width="218" height="296" rx="6"/></g>
<g id="B1"><rect class="bx" x="487" y="3669" width="224" height="76" rx="5"/><text class="s"><tspan x="493" y="3683">1级：韧带存在拉伸，仅在微观上有韧带纤维</tspan><tspan x="493" dy="13.8">的损伤，疼痛轻微。只要能耐受，可以负重；</tspan><tspan x="493" dy="13.8">无需夹板支具固定；可行等长收缩练习；如果</tspan><tspan x="493" dy="13.8">能耐受可以进行全范围的关节活动度练习以及</tspan><tspan x="493" dy="13.8">肌力训练。</tspan></text></g>
<g id="B2"><rect class="bx" x="487" y="3770" width="224" height="63" rx="5"/><text class="s"><tspan x="493" y="3784">2级：部分韧带纤维断裂，中等程度的疼痛和</tspan><tspan x="493" dy="13.8">肿胀，活动度受限，可能存在关节不稳。需要</tspan><tspan x="493" dy="13.8">应用夹板或支具进行固定，配合理疗以及肌力</tspan><tspan x="493" dy="13.8">和关节活动度练习。</tspan></text></g>
<g id="B3"><rect class="bx" x="487" y="3858" width="224" height="49" rx="5"/><text class="s"><tspan x="493" y="3872">3级：韧带完全断裂，存在明显的肿胀和疼痛</tspan><tspan x="493" dy="13.8">，关节不稳定。制动以及康复训练同2级，但</tspan><tspan x="493" dy="13.8">康复时间更长，少数病例需手术治疗。</tspan></text></g>
<g id="B4"><rect class="bx" x="256" y="3932" width="222" height="145" rx="5"/><text class="s"><tspan x="262" y="3946">【摘要】目的探究分析预见性护理指引在骨科</tspan><tspan x="262" dy="13.8">护理中的临床应用。方法选取我院2014年5月</tspan><tspan x="262" dy="13.8">~2015年5月共收治的120例骨科病例为研究</tspan><tspan x="262" dy="13.8">对象，随机分成两组，分析并探讨两组患者在</tspan><tspan x="262" dy="13.8">护理过程中的并发症发生率与护理满意度。结</tspan><tspan x="262" dy="13.8">果实验组组并发症低于对照组，护理满意度高</tspan><tspan x="262" dy="13.8">于对照组，差异有统计学意义(P&lt;)。结论在</tspan><tspan x="262" dy="13.8">对骨科病例进行护理过程中增加预见性护理，</tspan><tspan x="262" dy="13.8">可提高护理满意度，降低了并发症发生率，减</tspan><tspan x="262" dy="13.8">轻患者的痛苦。</tspan></text></g>
<g id="B5"><rect class="bx" x="502" y="4141" width="209" height="25" rx="5"/><text class="s m" x="606.5" y="4157">《 预见性护理指引在骨科护理中的运用 》</text></g>
<g id="B6"><rect class="bx" x="45" y="4104" width="224" height="131" rx="5"/><text class="s"><tspan x="51" y="4118">骨科患者大多数发病较突然，由于出现疼痛和</tspan><tspan x="51" dy="13.8">卧床时间较长导致患者出现较多负面心理。预</tspan><tspan x="51" dy="13.8">见性护理是一种超前护理，即医护人员对患者</tspan><tspan x="51" dy="13.8">病情综合分析之后，根据相关专业知识，发现</tspan><tspan x="51" dy="13.8">其中存在的隐藏问题，采取有效的处理方法，</tspan><tspan x="51" dy="13.8">旨在提高护理质量以及患者的生活质量，帮助</tspan><tspan x="51" dy="13.8">患者早日痊愈[1]。回顾性分析我院2014年5</tspan><tspan x="51" dy="13.8">月~2015年5月收治的120例骨科病例的临床</tspan><tspan x="51" dy="13.8">资料，具体报道如下。</tspan></text></g>
<g id="B7"><rect class="bx" x="198" y="4257" width="71" height="25" rx="5"/><text class="s m" x="233.5" y="4273">1资料与方法</text></g>
<g id="B8"><rect class="bx" x="215" y="4304" width="54" height="24" rx="5"/><text class="s m" x="242" y="4320">一般资料</text></g>
<g id="B9"><rect class="bx" x="291" y="4287" width="187" height="26" rx="5"/><text class="s m" x="384.5" y="4304">【关键词】预见性护理;骨科;临床应用</text></g>
<g id="B10"><rect class="bx" x="45" y="4352" width="224" height="159" rx="5"/><text class="s"><tspan x="51" y="4366">选取我院2014年5月~2015年5月共收治的12</tspan><tspan x="51" dy="13.8">0例骨科病例作为研究对象，随机分成实验组</tspan><tspan x="51" dy="13.8">与对照组，各60例。实验组男31例，女29例</tspan><tspan x="51" dy="13.8">，年龄30~49岁，平均年龄(±)岁，其中颈椎</tspan><tspan x="51" dy="13.8">病8例，腰椎间盘突出13例，脊柱骨折9例，</tspan><tspan x="51" dy="13.8">下肢骨折17例，上肢骨折13例;对照组男28例</tspan><tspan x="51" dy="13.8">，女32例，年龄31~40岁，平均年龄(±)岁，</tspan><tspan x="51" dy="13.8">其中颈椎病7例，腰椎间盘突出15例，脊柱骨</tspan><tspan x="51" dy="13.8">折18例，下肢骨折6例，上肢骨折14例。两组</tspan><tspan x="51" dy="13.8">在年龄、性别和病程等方面对比，差异无统计</tspan><tspan x="51" dy="13.8">学意义(P&gt;)。</tspan></text></g>
<g id="C1"><rect class="bx" x="1582" y="3448" width="223" height="62" rx="5"/><text class="s"><tspan x="1588" y="3462">(1)患者进入病区后，给予及时的抢救与护理</tspan><tspan x="1588" dy="13.8">，全面了解患者的心理状况、疼痛和临床症状</tspan><tspan x="1588" dy="13.8">等情况，根据患者具体情况的不同，制定有针</tspan><tspan x="1588" dy="13.8">对性的预见性护理方案[2]。</tspan></text></g>
<g id="C2"><rect class="bx" x="1582" y="3535" width="223" height="91" rx="5"/><text class="s"><tspan x="1588" y="3549">(2)护理人员向患者讲解在治疗过程中的相关</tspan><tspan x="1588" dy="13.8">检查项目和在日常生活中需要注意的方面，使</tspan><tspan x="1588" dy="13.8">患者保持积极的心态去面对各项检查。同时，</tspan><tspan x="1588" dy="13.8">通过发放宣传材料使家属对患者也进行一些心</tspan><tspan x="1588" dy="13.8">理行为干预，增强患者的安全感，以增强治疗</tspan><tspan x="1588" dy="13.8">的信心[3]。</tspan></text></g>
<g id="C3"><rect class="bx" x="1582" y="3650" width="223" height="78" rx="5"/><text class="s"><tspan x="1588" y="3664">(3)评价患者可能存在的安全隐患，注意在病</tspan><tspan x="1588" dy="13.8">床前摆放一些醒目标语以防止患者出现坠落等</tspan><tspan x="1588" dy="13.8">情况。保证医院地面的清洁与干燥，并做好防</tspan><tspan x="1588" dy="13.8">滑处理，避免患者跌倒而造成出现二次伤害[4</tspan><tspan x="1588" dy="13.8">]。</tspan></text></g>
<g id="C4"><rect class="bx" x="1582" y="4592" width="223" height="131" rx="5"/><text class="s"><tspan x="1588" y="4606">(4)骨科患者由于恢复期较长，易出现压疮等</tspan><tspan x="1588" dy="13.8">并发症，护理人员应定时帮助患者进行翻身以</tspan><tspan x="1588" dy="13.8">及清洁等，并对患者的饮食进行指导，确保患</tspan><tspan x="1588" dy="13.8">者营养均衡，以提高抵抗力。另外，若患者发</tspan><tspan x="1588" dy="13.8">生肺部感染，则可根据实际情况给予一定抗生</tspan><tspan x="1588" dy="13.8">素以治疗和缓解患者的病情发展[5]。(5)患者</tspan><tspan x="1588" dy="13.8">在长期卧床的过程中易出现排便困难或便秘，</tspan><tspan x="1588" dy="13.8">故在手术治疗之前，护理人员需要训练患者在</tspan><tspan x="1588" dy="13.8">床上大小便等[6]。</tspan></text></g>
<g id="D1"><rect class="bx" x="1829" y="3752" width="53" height="24" rx="5"/><text class="s m" x="1855.5" y="3768">观察指标</text></g>
<g id="D2"><rect class="bx" x="1829" y="3800" width="223" height="62" rx="5"/><text class="s"><tspan x="1835" y="3814">观察比较两组患者出现并发症(如下肢静脉血</tspan><tspan x="1835" dy="13.8">栓、泌尿系统感染、肺部感染、压疮、便秘等</tspan><tspan x="1835" dy="13.8">)的发生率及患者的护理满意度，满意度=满</tspan><tspan x="1835" dy="13.8">意/总数×100%。</tspan></text></g>
<g id="D3"><rect class="bx" x="1829" y="3888" width="63" height="23" rx="5"/><text class="s m" x="1860.5" y="3903">统计学方法</text></g>
<g id="D4"><rect class="bx" x="1829" y="3934" width="223" height="62" rx="5"/><text class="s"><tspan x="1835" y="3948">采用的统计学软件对数据进行分析处理，计量</tspan><tspan x="1835" dy="13.8">资料以(均数±标准差)(x-±s)表示，采用t检验</tspan><tspan x="1835" dy="13.8">，计数资料以率(%)表示，采用χ2检验，P&lt;</tspan><tspan x="1835" dy="13.8">为差异有统计学意义。</tspan></text></g>
<g id="D5"><rect class="bx" x="1829" y="4022" width="38" height="23" rx="5"/><text class="s m" x="1848" y="4037">2结果</text></g>
<g id="D6"><rect class="bx" x="1829" y="4070" width="223" height="118" rx="5"/><text class="s"><tspan x="1835" y="4084">实验组并发症发生率为，其中下肢深静脉血栓</tspan><tspan x="1835" dy="13.8">2例，泌尿系统感染6例，肺部感染4例，对照</tspan><tspan x="1835" dy="13.8">组并发症发生率为，其中下肢深静脉血栓3例</tspan><tspan x="1835" dy="13.8">，泌尿系统感染2例，肺部感染2例，便秘3例</tspan><tspan x="1835" dy="13.8">，压疮4例;对照组护理满意43例，不满意17</tspan><tspan x="1835" dy="13.8">例，满意度为，实验组护理满意52例，不满</tspan><tspan x="1835" dy="13.8">意8例，护理满意度为，P&lt;，差异有统计学意</tspan><tspan x="1835" dy="13.8">义。</tspan></text></g>
<g id="D7"><rect class="bx" x="1829" y="4211" width="38" height="24" rx="5"/><text class="s m" x="1848" y="4227">3讨论</text></g>
<g id="D8"><rect class="bx" x="1829" y="4260" width="223" height="186" rx="5"/><text class="s"><tspan x="1835" y="4274">骨科患者多因事发突然导致生活无法自理、卧</tspan><tspan x="1835" dy="13.8">床时间长和心理压力重，导致各种并发症的发</tspan><tspan x="1835" dy="13.8">生，不利于患者身体的恢复[7]。预见性护理</tspan><tspan x="1835" dy="13.8">是指将专业护理观察技能、临床实践、基础医</tspan><tspan x="1835" dy="13.8">学理论以及护理知识进行有效的融合，发现其</tspan><tspan x="1835" dy="13.8">中存在的隐藏问题及并发症，采取有效的处理</tspan><tspan x="1835" dy="13.8">方法，为患者提供优质的护理服务，帮助患者</tspan><tspan x="1835" dy="13.8">早日康复[8]。本次研究结果显示，实验组并</tspan><tspan x="1835" dy="13.8">发症低于对照组，护理满意度高于对照组，P</tspan><tspan x="1835" dy="13.8">&lt;，差异有统计学意义。综上所述，在对骨科</tspan><tspan x="1835" dy="13.8">病例进行护理过程中增加预见性护理，可提高</tspan><tspan x="1835" dy="13.8">护理满意度，降低并发症发生率，减轻患者的</tspan><tspan x="1835" dy="13.8">痛苦。</tspan></text></g>
<g id="D9"><rect class="bx" x="1829" y="4469" width="53" height="23" rx="5"/><text class="s m" x="1855.5" y="4484">参考文献</text></g>
<g id="D10"><rect class="bx" x="1829" y="4517" width="223" height="48" rx="5"/><text class="s"><tspan x="1835" y="4531">[1]郑荣妹.预见性护理指引在骨科护理中的应</tspan><tspan x="1835" dy="13.8">用[J].中国实用护理杂志，2011，27(28)：23</tspan><tspan x="1835" dy="13.8">-24.</tspan></text></g>
<g id="D11"><rect class="bx" x="1829" y="4591" width="223" height="49" rx="5"/><text class="s"><tspan x="1835" y="4605">[2]刘红英.预见性护理指引在骨科护理中的应</tspan><tspan x="1835" dy="13.8">用分析[J].中国保健营养(上旬刊)，2013，23(</tspan><tspan x="1835" dy="13.8">3)：1255.</tspan></text></g>
<g id="D12"><rect class="bx" x="1829" y="4665" width="223" height="49" rx="5"/><text class="s"><tspan x="1835" y="4679">[3]吴彩燕，叶静，魏永敏，等.预见性护理指</tspan><tspan x="1835" dy="13.8">引在骨科护理中的应用[J].中国现代医生，20</tspan><tspan x="1835" dy="13.8">12，50(32)：95-96.</tspan></text></g>
<g id="D13"><rect class="bx" x="1829" y="4740" width="223" height="49" rx="5"/><text class="s"><tspan x="1835" y="4754">[4]李子凤.探讨预见性护理指引在骨科护理中</tspan><tspan x="1835" dy="13.8">的应用价值[J].医学信息(下旬刊)，2013，26(</tspan><tspan x="1835" dy="13.8">8)：457-458.</tspan></text></g>
<g id="D14"><rect class="bx" x="1829" y="4815" width="223" height="49" rx="5"/><text class="s"><tspan x="1835" y="4829">[5]马凤秋.预见性护理指引在骨科护理中的实</tspan><tspan x="1835" dy="13.8">施效果评价[J].中国医药指南，2015，13(34)</tspan><tspan x="1835" dy="13.8">：206.</tspan></text></g>
<g id="D15"><rect class="bx" x="1829" y="4890" width="223" height="49" rx="5"/><text class="s"><tspan x="1835" y="4904">[6]赵文芳.预见性护理指引在骨科护理中的应</tspan><tspan x="1835" dy="13.8">用研究[J].健康必读(中旬刊)，2013，12(7)：</tspan><tspan x="1835" dy="13.8">491-492.</tspan></text></g>
<g id="D16"><rect class="bx" x="1829" y="4962" width="223" height="50" rx="5"/><text class="s"><tspan x="1835" y="4976">[7]许晶晶.预见性护理指引在骨科护理中的作</tspan><tspan x="1835" dy="13.8">用探析[J].世界最新医学信息文摘(连续型电子</tspan><tspan x="1835" dy="13.8">期刊)，2016，16(4)：230-231.</tspan></text></g>
<g id="D17"><rect class="bx" x="1829" y="5036" width="223" height="36" rx="5"/><text class="s"><tspan x="1835" y="5050">[8]李雪轶.预见性护理指引在骨科护理中的应</tspan><tspan x="1835" dy="13.8">用[J].北方药学，2012，9(4)：123.</tspan></text></g>
<g id="D18"><rect class="bx" x="1829" y="5531" width="223" height="37" rx="5"/><text class="s"><tspan x="1835" y="5546">一、发病的原因和年龄不同武汉市中心医院骨</tspan><tspan x="1835" dy="13.8">外科李舰</tspan></text></g>
<g id="E1"><rect class="bx" x="2077" y="5098" width="222" height="77" rx="5"/><text class="s"><tspan x="2083" y="5112">"风湿关节痛"是一种特殊细菌感染所引起的，</tspan><tspan x="2083" dy="13.8">这种细菌感染之后引起患者机体产生自身免疫</tspan><tspan x="2083" dy="13.8">反应，引起风湿热，攻击自己的关节，引起关</tspan><tspan x="2083" dy="13.8">节炎急性发作。"风湿性关节炎"初发年龄以9-</tspan><tspan x="2083" dy="13.8">17岁多见，男女比例相当。</tspan></text></g>
<g id="E2"><rect class="bx" x="2077" y="5200" width="222" height="90" rx="5"/><text class="s"><tspan x="2083" y="5214">"类风湿性关节炎"则与细菌感染无关，是一种</tspan><tspan x="2083" dy="13.8">病因不清楚的慢性全身性炎症性疾病，以慢性</tspan><tspan x="2083" dy="13.8">、对称性、多滑膜关节炎和关节外病变为主要</tspan><tspan x="2083" dy="13.8">临床表现，属于自身免疫炎性疾病。"类风湿</tspan><tspan x="2083" dy="13.8">性关节炎"可发生于任何年龄，疾病高发年龄</tspan><tspan x="2083" dy="13.8">为40～60岁，女性比男性患病率高3倍。</tspan></text></g>
<g id="E3"><rect class="bx" x="2077" y="5419" width="190" height="24" rx="5"/><text class="s m" x="2172" y="5435">二、疾病的临床症状和疾病的预后不同</text></g>
<g id="E4"><rect class="bx" x="2292" y="5315" width="222" height="104" rx="5"/><text class="s"><tspan x="2298" y="5329">"风湿关节痛"发病很急骤，往往伴随轻度和中</tspan><tspan x="2298" dy="13.8">度发热，病变关节多以膝、踝、肩、肘、腕等</tspan><tspan x="2298" dy="13.8">大关节为主，常见由一个关节转移至另一个关</tspan><tspan x="2298" dy="13.8">节（游走性），病变局部呈现红、肿、灼热、</tspan><tspan x="2298" dy="13.8">剧痛，部分病人也有几个关节同时发病，急性</tspan><tspan x="2298" dy="13.8">炎症一般于2-4周消退，疼痛消失后关节不留</tspan><tspan x="2298" dy="13.8">后遗症，不引起关节变形，但常反复发作。</tspan></text></g>
<g id="E5"><rect class="bx" x="2292" y="5443" width="222" height="106" rx="5"/><text class="s"><tspan x="2298" y="5457">"类风湿关节炎"起病缓慢，很少伴有发热，病</tspan><tspan x="2298" dy="13.8">变特点为缓慢持续性关节破坏，病变最先累及</tspan><tspan x="2298" dy="13.8">手指关节，腕关节足趾关节，后期病情发展也</tspan><tspan x="2298" dy="13.8">可以破坏肘关节，膝关节和髋关节，呈对称分</tspan><tspan x="2298" dy="13.8">布。该病好发于早期有关节红肿热痛和功能障</tspan><tspan x="2298" dy="13.8">碍，晚期关节可出现不同程度的僵硬畸形，并</tspan><tspan x="2298" dy="13.8">伴有骨和骨骼肌的萎缩，极易致残。</tspan></text></g>
<g id="E6"><rect class="bx" x="2077" y="5613" width="105" height="23" rx="5"/><text class="s m" x="2129.5" y="5628">三、实验室检查不同</text></g>
<g id="E7"><rect class="bx" x="2207" y="5571" width="222" height="105" rx="5"/><text class="s"><tspan x="2213" y="5585">"风湿"和"类风湿"性关节炎患者，实验室检测</tspan><tspan x="2213" dy="13.8">的项目包括：ESR（血沉），CRP（C反应蛋</tspan><tspan x="2213" dy="13.8">白），ASO（抗链球菌溶血素O），ANA（</tspan><tspan x="2213" dy="13.8">抗核抗体），RF（类风湿因子），抗可提取</tspan><tspan x="2213" dy="13.8">核抗原抗体(ENA)。"风湿"与"类风湿"性关节</tspan><tspan x="2213" dy="13.8">炎最大的区别：前者的ANA，RF，ENA均为</tspan><tspan x="2213" dy="13.8">正常。</tspan></text></g>
<g id="E8"><rect class="bx" x="2077" y="5701" width="95" height="23" rx="5"/><text class="s m" x="2124.5" y="5716">四、诊断标准不同</text></g>
<g id="E9"><rect class="bx" x="2077" y="5951" width="137" height="25" rx="5"/><text class="s m" x="2145.5" y="5967">五、治疗方法和目的不同：</text></g>
<g id="E10"><rect class="bx" x="2238" y="5747" width="224" height="120" rx="5"/><text class="s"><tspan x="2244" y="5761">"风湿性"关节疼痛治疗原则是早期诊断和尽早</tspan><tspan x="2244" dy="13.8">合理、联合用药。彻底消除链球菌感染是"风</tspan><tspan x="2244" dy="13.8">湿性"疼痛的治疗首要目标，其次是缓解关节</tspan><tspan x="2244" dy="13.8">疼痛的症状."风湿性关节炎"一般不引起关节</tspan><tspan x="2244" dy="13.8">畸形，所以通常是保守治疗为主。风湿病引起</tspan><tspan x="2244" dy="13.8">关节炎首选青霉素，很少用抗风湿西药，一般</tspan><tspan x="2244" dy="13.8">给予抗感染，中医祛风散寒、活血化瘀药等对</tspan><tspan x="2244" dy="13.8">症治疗常能速愈。</tspan></text></g>
<g id="E11"><rect class="bx" x="2238" y="5890" width="224" height="173" rx="5"/><text class="s"><tspan x="2244" y="5904">"类风湿关节炎"治疗是以防止关节破坏，保护</tspan><tspan x="2244" dy="13.8">关节功能，最大限度的提高患者的生活质量为</tspan><tspan x="2244" dy="13.8">目标。在关节疼痛肿胀期间应用非甾体抗炎药</tspan><tspan x="2244" dy="13.8">控制疼痛等症状。用药上及早应用抗风湿药，</tspan><tspan x="2244" dy="13.8">严重患者还需要使用生物制剂。临床上很多"</tspan><tspan x="2244" dy="13.8">类风湿关节炎"患者治疗过程中过分依赖中药</tspan><tspan x="2244" dy="13.8">，仅仅控制疼痛，并未阻止病情发展，往往很</tspan><tspan x="2244" dy="13.8">年轻就出现关节严重畸形，过早进行关节置换</tspan><tspan x="2244" dy="13.8">手术，因此"类风湿关节炎"患者治疗建议尽量</tspan><tspan x="2244" dy="13.8">抗风湿西药为主，中药为辅，以免贻误最佳</tspan><tspan x="2244" dy="13.8">治疗时期。如果确实晚期出现关节畸形，可以</tspan><tspan x="2244" dy="13.8">通过关节置换恢复关节正常功能。</tspan></text></g>
<g id="E12"><rect class="bx" x="2238" y="6086" width="224" height="64" rx="5"/><text class="s"><tspan x="2244" y="6100">由此可见，风湿与类风湿虽然都是关节炎，都</tspan><tspan x="2244" dy="13.8">有关节疼痛症状，但并不是同一种病。最后一</tspan><tspan x="2244" dy="13.8">句话总结："风湿"好治可痊愈；"类风湿"致残</tspan><tspan x="2244" dy="13.8">只能缓解。</tspan></text></g>
</g>
</svg>
